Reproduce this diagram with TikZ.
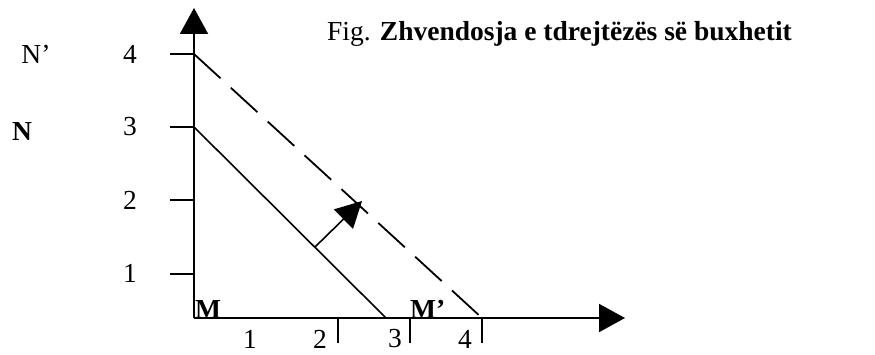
\documentclass[tikz,border=0pt]{standalone}
\usepackage{fontspec}
\setmainfont{Liberation Serif}
\usetikzlibrary{arrows.meta}
\begin{document}
\begin{tikzpicture}[x=1pt,y=-1pt,
  axis/.style={line width=2pt,-{Triangle[length=26pt,width=28pt]}},
  tickline/.style={line width=1.8pt},
  budget/.style={line width=1.6pt},
  shifted/.style={line width=1.8pt,dash pattern=on 36pt off 14pt},
  lbl/.style={font=\fontsize{27.5}{30}\selectfont,inner sep=0pt},
  blbl/.style={font=\fontsize{27.5}{30}\selectfont\bfseries,inner sep=0pt}]
\useasboundingbox (0,0) rectangle (875,355);
% axes
\coordinate (O) at (194,318);
\coordinate (Ytop) at (194,8);
\coordinate (Xend) at (625,318);
\draw[axis] (O) -- (Ytop);
\draw[axis] (O) -- (Xend);
% y ticks
\coordinate (Y4) at (194,54);
\coordinate (Y3) at (194,127);
\coordinate (Y2) at (194,200);
\coordinate (Y1) at (194,274);
\foreach \c in {Y1,Y2,Y3,Y4} \draw[tickline] (\c) -- ++(-24,0);
% x ticks
\coordinate (X2) at (338,318);
\coordinate (X3) at (410,318);
\coordinate (X4) at (482,318);
\foreach \c in {X2,X3,X4} \draw[tickline] (\c) -- ++(0,25);
% budget lines
\coordinate (Xb) at (386,318);
\draw[budget] (Y3) -- (Xb);
\draw[shifted] (Y4) -- (X4);
% shift arrow
\coordinate (A0) at (315,247);
\coordinate (A1) at (362,201);
\draw[line width=1.6pt,-{Triangle[length=26pt,width=27pt]}] (A0) -- (A1);
% y labels
\node[lbl] (l4) at (130,54) {4};
\node[lbl] (l3) at (130,127) {3};
\node[lbl] (l2) at (130,200) {2};
\node[lbl] (l1) at (130,273) {1};
\node[lbl] (Np) at (36,54) {N’};
\node[blbl] (N) at (22,131) {N};
% x labels
\node[lbl] (m1) at (250,339) {1};
\node[lbl] (m2) at (320,339) {2};
\node[lbl] (m3) at (395,339) {3};
\node[lbl] (m4) at (465,339) {4};
\node[blbl,anchor=base west] (M) at (195,318) {M};
\node[blbl,anchor=base west] (Mp) at (410,318) {M’};
% title
\node[lbl,anchor=base west] (title) at (327,41) {Fig. \textbf{Zhvendosja e tdrejtëzës së buxhetit}};
\end{tikzpicture}
\end{document}
